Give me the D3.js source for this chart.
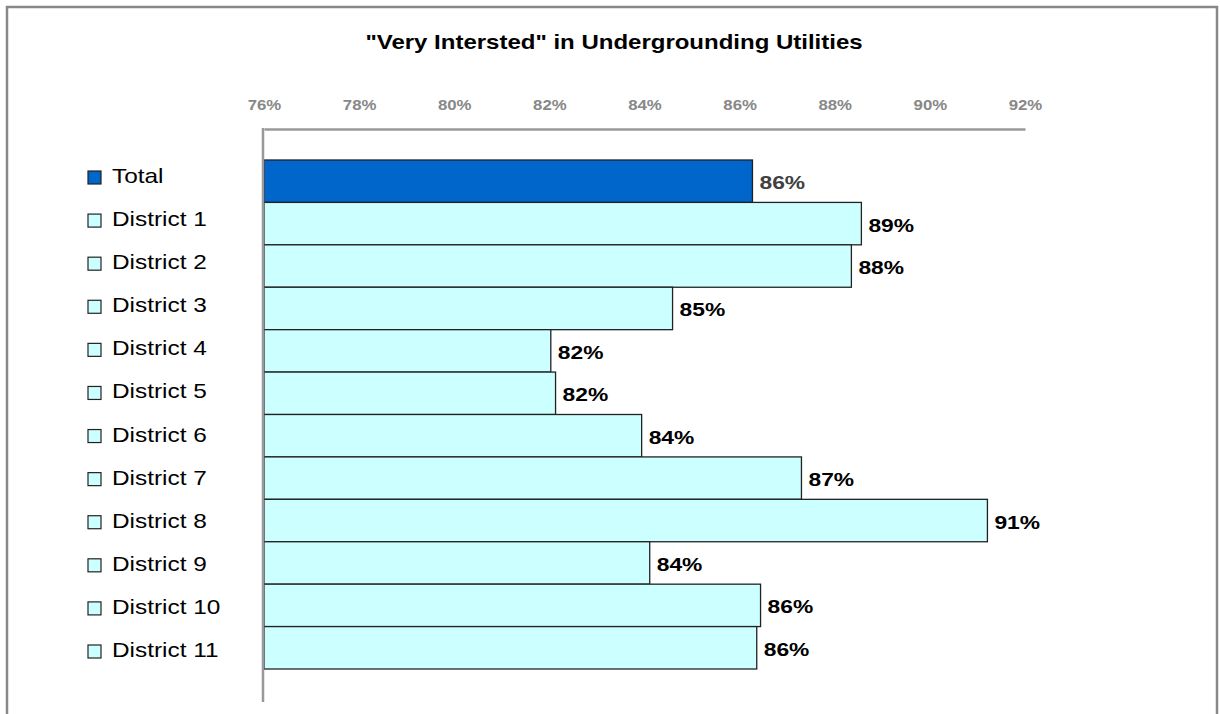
<!DOCTYPE html>
<html>
<head>
<meta charset="utf-8">
<script src="https://cdn.jsdelivr.net/npm/d3@7"></script>
<style>
  html, body { margin: 0; padding: 0; background: #fff; }
  svg { display: block; font-family: "Liberation Sans", Arial, sans-serif; }
</style>
</head>
<body>
<svg id="chart" width="1220" height="714"></svg>
<script>
// Share of residents "very interested", by area
const categories = ["Total", "District 1", "District 2", "District 3", "District 4", "District 5",
  "District 6", "District 7", "District 8", "District 9", "District 10", "District 11"];
const values = [86.27, 88.56, 88.35, 84.59, 82.03, 82.13, 83.94, 87.30, 91.21, 84.11, 86.44, 86.36];
const tickValues = [76, 78, 80, 82, 84, 86, 88, 90, 92];

const FONT = "\"Liberation Sans\", Arial, sans-serif";
const WIDE = 1.2; // horizontal stretch applied to all text

const svg = d3.select("#chart");

// outer frame
svg.append("rect")
  .attr("x", 7).attr("y", 7).attr("width", 1210).attr("height", 720)
  .attr("fill", "none").attr("stroke", "#888").attr("stroke-width", 2.5);

svg.append("text")
  .attr("transform", `translate(614,49) scale(${WIDE},1)`)
  .attr("text-anchor", "middle")
  .attr("font-size", 20).attr("font-weight", "bold").attr("fill", "#000")
  .text("\"Very Intersted\" in Undergrounding Utilities");

const x = d3.scaleLinear().domain([76, 92]).range([264, 1025]);
const y = d3.scaleBand().domain(categories).range([160, 669]).padding(0);
const legendY = d3.scalePoint().domain(categories).range([183, 657]);

// top axis
const axis = svg.append("g").attr("transform", "translate(0,129)")
  .call(d3.axisTop(x).tickValues(tickValues).tickSize(0).tickPadding(19)
    .tickFormat(d => d + "%"));
axis.select(".domain").attr("stroke", "#999").attr("stroke-width", 2.5);
axis.selectAll("text")
  .attr("transform", `scale(${WIDE},1)`)
  .attr("font-family", FONT)
  .attr("font-size", 14).attr("font-weight", "bold").attr("fill", "#888");

// bars
svg.append("g").selectAll("rect")
  .data(values)
  .join("rect")
  .attr("x", x(76))
  .attr("y", (d, i) => y(categories[i]))
  .attr("width", d => x(d) - x(76))
  .attr("height", y.bandwidth())
  .attr("fill", (d, i) => i === 0 ? "#0066CC" : "#CCFFFF")
  .attr("stroke", "#222").attr("stroke-width", 1.3);

// left axis line
svg.append("line")
  .attr("x1", 263).attr("x2", 263).attr("y1", 128).attr("y2", 702)
  .attr("stroke", "#999").attr("stroke-width", 2.5);

// value labels
svg.append("g").selectAll("text")
  .data(values)
  .join("text")
  .attr("transform", (d, i) =>
    `translate(${x(d) + 7},${y(categories[i]) + y.bandwidth() / 2 + 8}) scale(${WIDE},1)`)
  .attr("font-size", 19).attr("font-weight", "bold")
  .attr("fill", (d, i) => i === 0 ? "#404040" : "#000")
  .text(d => Math.round(d) + "%");

// category legend
const legend = svg.append("g").selectAll("g")
  .data(categories)
  .join("g")
  .attr("transform", d => `translate(0,${legendY(d)})`);
legend.append("rect")
  .attr("x", 88).attr("y", -12).attr("width", 13).attr("height", 13)
  .attr("fill", (d, i) => i === 0 ? "#0066CC" : "#CCFFFF")
  .attr("stroke", "#222").attr("stroke-width", 1.2);
legend.append("text")
  .attr("transform", `translate(112,0) scale(1.22,1)`)
  .attr("font-size", 20).attr("fill", "#000")
  .text(d => d);
</script>
</body>
</html>
